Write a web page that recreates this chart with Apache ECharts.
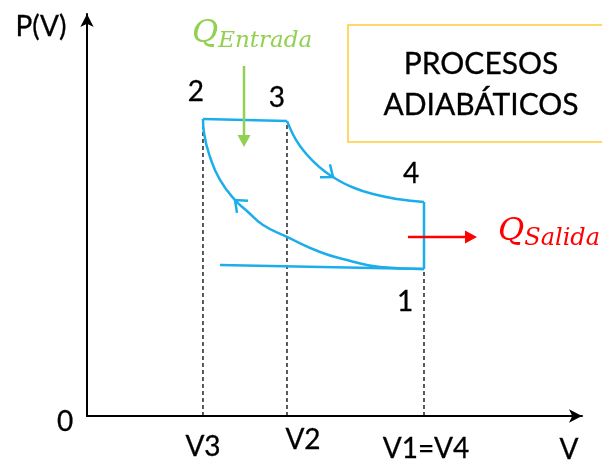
<!DOCTYPE html>
<html><head><meta charset="utf-8">
<script src="https://cdn.jsdelivr.net/npm/echarts@6/dist/echarts.min.js"></script>
<style>html,body{margin:0;padding:0;background:#fff}#c{width:602px;height:464px}</style>
</head><body><div id="c"></div>
<script>
// ---- data ----
const volumeTicks = ['V3', 'V2', 'V1=V4'];
const volumeValues = [2.343, 4.040, 6.808];
const stateNames = ['1', '2', '3', '4'];
const stateV = [6.808, 2.343, 4.040, 6.808];
const stateP = [3.657, 7.388, 7.338, 5.323];
const expansionV = [4.040, 4.101, 4.202, 4.364, 4.566, 4.768, 5.051, 5.374, 5.778, 6.263, 6.808];
const expansionP = [7.338, 7.164, 6.915, 6.617, 6.343, 6.119, 5.883, 5.684, 5.522, 5.398, 5.323];
const compressionV = [2.343, 2.364, 2.485, 2.687, 2.990, 3.253, 3.556, 4.040, 4.707, 5.253, 5.919, 6.808];
const compressionP = [7.388, 7.040, 6.443, 5.871, 5.373, 5.075, 4.751, 4.453, 4.080, 3.881, 3.706, 3.657];
const intakeV = [2.687, 6.808];
const intakeP = [3.756, 3.657];
const heatLabels = ['Entrada', 'Salida'];
const heatFromV = [3.172, 6.485];
const heatFromP = [8.706, 4.453];
const heatToV = [3.172, 7.879];
const heatToP = [6.692, 4.453];
const flowTipV = [4.970, 2.990];
const flowTipP = [5.945, 5.373];
const flowTailV = [4.707, 3.270];
const flowTailP = [6.194, 5.060];
const axisNames = ['0', 'V', 'P(V)'];
const axisNameV = [0, 10, 0];
const axisNameP = [0, 0, 10];

// ---- styles ----
const BLUE = '#1BAEEA';
const GREEN = '#92D050';
const RED = '#FF0000';
const FONT = 'Lato';
const stateOffsets = [[-19, 33], [-7, -27], [-10, -23], [-13, -28]];
const tickOffsets = [[0, 31], [16, 24], [2, 33]];
const axisNameOffsets = [[-22, 6], [-13, 34], [-46, 13]];
const heatColors = [GREEN, RED];
const heatTextPos = [['from', -52, -32], ['to', 21, -5]];
const heatSub = [23, 24];

const pairs = (a, b) => a.map((v, i) => [v, b[i]]);

const series = [];
// dashed drop lines
[[1, 0], [2, 1], [0, 2]].forEach(([si, ti]) => {
  series.push({
    type: 'line', data: [[volumeValues[ti], 0], [stateV[si], stateP[si]]],
    symbol: 'none', silent: true, z: 1,
    lineStyle: { color: '#000', width: 1.3, type: [4, 3] }
  });
});
const solid = { color: BLUE, width: 2.5 };
series.push({ type: 'line', data: [[stateV[1], stateP[1]], [stateV[2], stateP[2]]], symbol: 'none', lineStyle: solid, z: 3 });
series.push({ type: 'line', data: [[stateV[3], stateP[3]], [stateV[0], stateP[0]]], symbol: 'none', lineStyle: solid, z: 3 });
series.push({ type: 'line', data: pairs(intakeV, intakeP), symbol: 'none', lineStyle: solid, z: 3 });
series.push({ type: 'line', data: pairs(expansionV, expansionP), smooth: 0.5, symbol: 'none', lineStyle: solid, z: 3 });
series.push({ type: 'line', data: pairs(compressionV, compressionP), smooth: 0.5, symbol: 'none', lineStyle: solid, z: 3 });

// flow direction chevrons
series.push({
  type: 'custom', z: 4, silent: true,
  data: flowTipV.map((v, i) => [v, flowTipP[i], flowTailV[i], flowTailP[i]]),
  renderItem(params, api) {
    const t = api.coord([api.value(0), api.value(1)]);
    const b = api.coord([api.value(2), api.value(3)]);
    const ang = Math.atan2(t[1] - b[1], t[0] - b[0]);
    const L = 13, A = 0.68;
    const p1 = [t[0] - L * Math.cos(ang - A), t[1] - L * Math.sin(ang - A)];
    const p2 = [t[0] - L * Math.cos(ang + A), t[1] - L * Math.sin(ang + A)];
    return { type: 'polyline', shape: { points: [p1, t, p2] }, style: { stroke: BLUE, lineWidth: 2.5, fill: null } };
  }
});

// heat arrows with labels
series.push({
  type: 'custom', z: 5, silent: true,
  data: heatFromV.map((v, i) => [v, heatFromP[i], heatToV[i], heatToP[i]]),
  renderItem(params, api) {
    const i = params.dataIndex;
    const a = api.coord([api.value(0), api.value(1)]);
    const b = api.coord([api.value(2), api.value(3)]);
    const color = heatColors[i];
    const ang = Math.atan2(b[1] - a[1], b[0] - a[0]);
    const L = 12, W = 6.5;
    const base = [b[0] - L * Math.cos(ang), b[1] - L * Math.sin(ang)];
    const p1 = [base[0] + W * Math.sin(ang), base[1] - W * Math.cos(ang)];
    const p2 = [base[0] - W * Math.sin(ang), base[1] + W * Math.cos(ang)];
    const tp = heatTextPos[i];
    const anchor = tp[0] === 'from' ? a : b;
    return {
      type: 'group', children: [
        { type: 'line', shape: { x1: a[0], y1: a[1], x2: base[0], y2: base[1] }, style: { stroke: color, lineWidth: 2.5 } },
        { type: 'polygon', shape: { points: [b, p1, p2] }, style: { fill: color } },
        {
          type: 'text', x: anchor[0] + tp[1], y: anchor[1] + tp[2],
          style: {
            text: '{q|Q}{s|' + heatLabels[i] + '}',
            align: 'left', verticalAlign: 'middle',
            rich: {
              q: { fontFamily: 'DejaVu Serif', fontStyle: 'italic', fontSize: 32, fill: color, verticalAlign: 'bottom' },
              s: { fontFamily: 'DejaVu Serif', fontStyle: 'italic', fontSize: heatSub[i], fill: color, verticalAlign: 'bottom', padding: [0, 0, -3, 0] }
            }
          }
        }
      ]
    };
  }
});

// text labels (drawn as plain text at data positions)
const labelItems = [];
stateNames.forEach((n, i) => labelItems.push({ v: stateV[i], p: stateP[i], text: n, off: stateOffsets[i] }));
volumeTicks.forEach((n, i) => labelItems.push({ v: volumeValues[i], p: 0, text: n, off: tickOffsets[i] }));
axisNames.forEach((n, i) => labelItems.push({ v: axisNameV[i], p: axisNameP[i], text: n, off: axisNameOffsets[i] }));
series.push({
  type: 'custom', silent: true, z: 6, clip: false,
  data: labelItems.map((d, i) => [d.v, d.p, i]),
  renderItem(params, api) {
    const d = labelItems[api.value(2)];
    const c = api.coord([api.value(0), api.value(1)]);
    return {
      type: 'text', x: c[0] + d.off[0], y: c[1] + d.off[1],
      style: { text: d.text, align: 'center', verticalAlign: 'middle', fontFamily: FONT, fontSize: 28, fill: '#000', stroke: '#000', lineWidth: 0.3 }
    };
  }
});

const axisCommon = {
  type: 'value', min: 0, max: 10,
  axisLine: { show: true, onZero: false, symbol: ['none', 'arrow'], symbolSize: [10, 13], lineStyle: { color: '#000', width: 2 } },
  axisTick: { show: false }, axisLabel: { show: false }, splitLine: { show: false }
};

const chart = echarts.init(document.getElementById('c'));
chart.setOption({
  animation: false,
  backgroundColor: '#fff',
  grid: { left: 87, right: 20, top: 14, bottom: 48 },
  xAxis: axisCommon,
  yAxis: axisCommon,
  graphic: [
    { type: 'rect', shape: { x: 348, y: 25, width: 280, height: 117 }, style: { stroke: '#FFCC3A', lineWidth: 1.5, fill: 'none' } },
    { type: 'text', x: 481, y: 85, style: { text: 'PROCESOS\nADIABÁTICOS', align: 'center', verticalAlign: 'middle', fontFamily: FONT, fontSize: 30, lineHeight: 41, fill: '#000', stroke: '#000', lineWidth: 0.3 } }
  ],
  series
});
</script></body></html>
